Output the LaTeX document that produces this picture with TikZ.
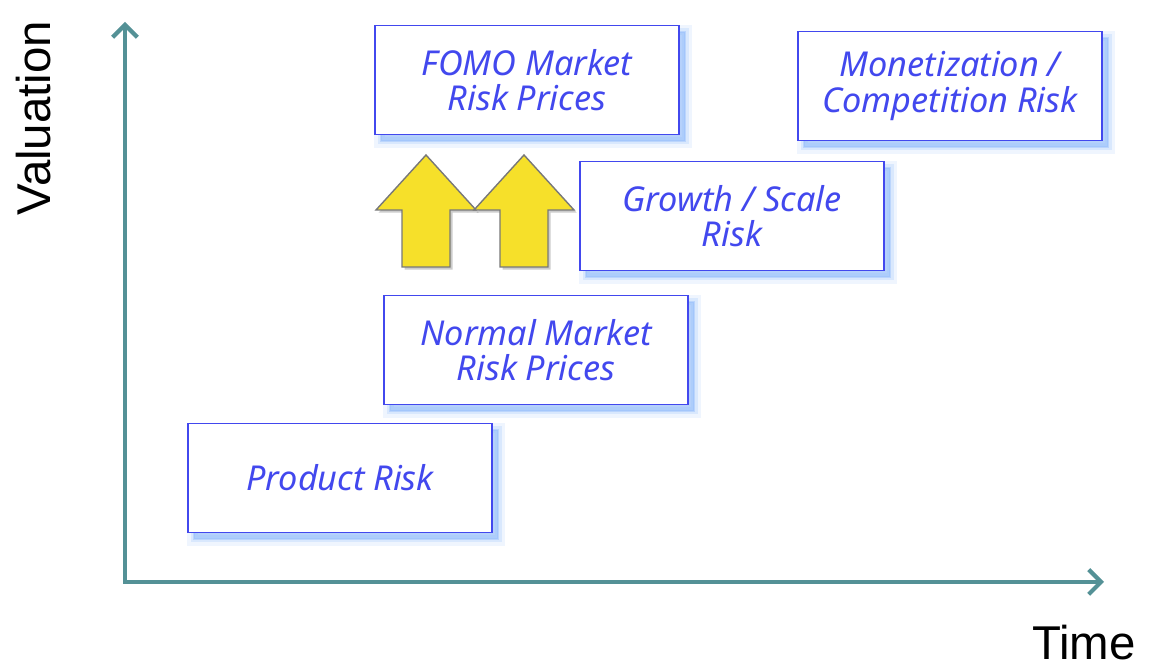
\documentclass[tikz,border=0pt]{standalone}
\usepackage{fontspec}
\setmainfont{Liberation Sans}
\newfontfamily\handfont{Noto Sans}
\usetikzlibrary{arrows.meta,shadows}
\definecolor{AxisTeal}{RGB}{84,145,150}
\definecolor{RiskBlue}{RGB}{66,72,238}
\definecolor{RiskGlow}{RGB}{150,190,250}
\definecolor{PushYellow}{RGB}{246,224,42}
\definecolor{PushEdge}{RGB}{120,120,120}

\begin{document}
\begin{tikzpicture}[x=0.02cm,y=0.02cm,
  axis/.style={draw=AxisTeal,line width=2.4pt,{Straight Barb[length=7pt,width=14pt]}-{Straight Barb[length=7pt,width=14pt]}},
  risk/.style={draw=RiskBlue,line width=1.1pt,fill=white,minimum width=6.08cm,minimum height=2.18cm,align=center,text=RiskBlue,font=\handfont\itshape\fontsize{19.5}{20}\selectfont,
    general shadow={fill=RiskGlow,draw=RiskGlow,line width=8pt,opacity=.15,shadow xshift=3.5pt,shadow yshift=-3.5pt},
    general shadow={fill=RiskGlow,draw=RiskGlow,line width=4pt,opacity=.25,shadow xshift=3.5pt,shadow yshift=-3.5pt},
    general shadow={fill=RiskGlow,draw=RiskGlow,line width=1pt,opacity=.45,shadow xshift=3.5pt,shadow yshift=-3.5pt}},
  push/.style={fill=PushYellow,draw=PushEdge,line width=0.8pt,line join=miter,
    general shadow={fill=black,opacity=.2,shadow xshift=1.5pt,shadow yshift=-1.5pt}},
  axislabel/.style={inner sep=0pt,font=\fontsize{27}{30}\selectfont}]
\useasboundingbox (0,0) rectangle (1150,671);

% axes
\coordinate (ytop) at (125,649);
\coordinate (origin) at (125,89);
\coordinate (xend) at (1104,89);
\draw[axis] (ytop) |- (xend);
\node[axislabel,rotate=90] (vallabel) at (34,553) {Valuation};
\node[axislabel] (timelabel) at (1084,28) {Time};

% risk stages
\node[risk] (product) at (340,193) {Product Risk};
\node[risk] (normal) at (536,321) {Normal Market\\Risk Prices};
\node[risk] (fomo) at (527,591) {FOMO Market\\Risk Prices};
\node[risk] (growth) at (732,455) {Growth / Scale\\Risk};
\node[risk] (monet) at (950,585) {Monetization /\\Competition Risk};

% block arrows pushing up
\foreach \cx in {426,524} {
   \draw[push] (\cx-24,404) -- (\cx+24,404) -- (\cx+24,461) -- (\cx+50,461)
      -- (\cx,516) -- (\cx-50,461) -- (\cx-24,461) -- cycle;
}
\end{tikzpicture}
\end{document}
